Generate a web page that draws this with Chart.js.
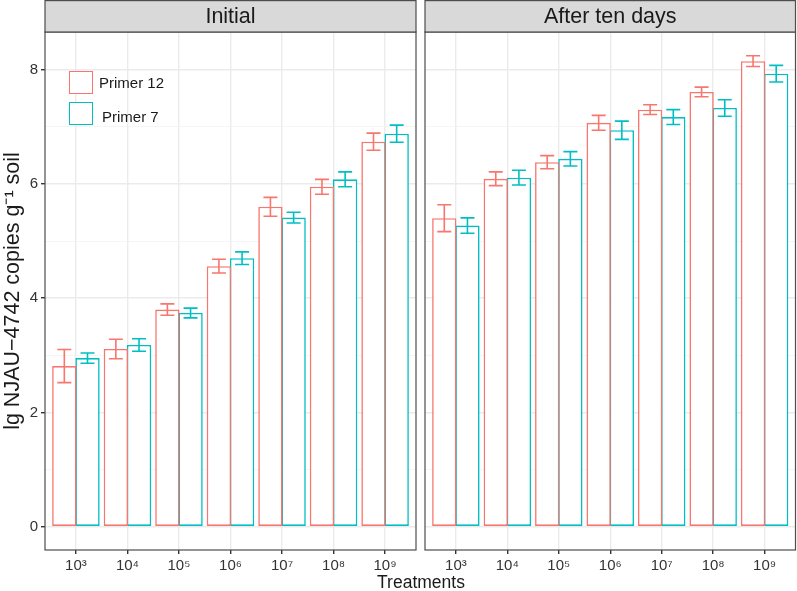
<!DOCTYPE html>
<html>
<head>
<meta charset="utf-8">
<script src="https://cdn.jsdelivr.net/npm/chart.js@4"></script>
<style>
  body { margin: 0; background: #fff; }
  #wrap { position: relative; width: 797px; height: 591px; font-family: "Liberation Sans", Arial, sans-serif; }
  canvas { position: absolute; top: 0; }
  .key { position: absolute; width: 22px; height: 21px; border: 1.6px solid; background: #fff; }
  .lab { position: absolute; font-size: 15px; color: #1a1a1a; line-height: 18px; }
  #xtitle { position: absolute; left: 0; width: 842px; top: 572px; text-align: center; font-size: 17.5px; color: #1a1a1a; }
</style>
</head>
<body>
<div id="wrap">
  <canvas id="leftChart" width="421" height="591" style="left:0"></canvas>
  <canvas id="rightChart" width="376" height="591" style="left:421px"></canvas>
  <div class="key" style="left:69px;top:71px;border-color:#F8766D"></div>
  <div class="lab" style="left:99px;top:74px">Primer 12</div>
  <div class="key" style="left:69px;top:102px;border-color:#00BFC4"></div>
  <div class="lab" style="left:102px;top:108px">Primer 7</div>
  <div id="xtitle">Treatments</div>
</div>
<script>
// data
const treatments = ['10³', '10⁴', '10⁵', '10⁶', '10⁷', '10⁸', '10⁹'];
const seriesNames = ['Primer 12', 'Primer 7'];

const initialP12 = [2.81, 3.11, 3.80, 4.56, 5.60, 5.95, 6.74];
const initialP12Err = [0.29, 0.17, 0.10, 0.12, 0.165, 0.13, 0.15];
const initialP7 = [2.95, 3.18, 3.74, 4.70, 5.41, 6.08, 6.88];
const initialP7Err = [0.09, 0.11, 0.085, 0.11, 0.095, 0.13, 0.15];

const tenDaysP12 = [5.40, 6.09, 6.38, 7.07, 7.30, 7.61, 8.15];
const tenDaysP12Err = [0.235, 0.12, 0.115, 0.13, 0.085, 0.085, 0.095];
const tenDaysP7 = [5.27, 6.11, 6.44, 6.94, 7.17, 7.33, 7.93];
const tenDaysP7Err = [0.135, 0.13, 0.125, 0.16, 0.13, 0.145, 0.145];

const yTicks = [0, 1, 2, 3, 4, 5, 6, 7, 8];
const yMin = -0.41, yMax = 8.66;

const colors = ['#F8766D', '#00BFC4'];

Chart.defaults.font.family = '"Liberation Sans", Arial, sans-serif';
Chart.defaults.color = '#333';

// strip on top, border round the panel, error bars
const panelPlugin = {
    id: 'panel',
    afterDatasetsDraw(chart) {
        const ctx = chart.ctx;
        const y = chart.scales.y;
        chart.data.datasets.forEach((ds, i) => {
            const meta = chart.getDatasetMeta(i);
            ctx.save();
            ctx.strokeStyle = ds.borderColor;
            ctx.lineWidth = 1.6;
            meta.data.forEach((bar, j) => {
                const v = ds.data[j].y;
                const hi = y.getPixelForValue(v + ds.err[j]);
                const lo = y.getPixelForValue(v - ds.err[j]);
                const w = 7;
                ctx.beginPath();
                ctx.moveTo(bar.x, hi); ctx.lineTo(bar.x, lo);
                ctx.moveTo(bar.x - w, hi); ctx.lineTo(bar.x + w, hi);
                ctx.moveTo(bar.x - w, lo); ctx.lineTo(bar.x + w, lo);
                ctx.stroke();
            });
            ctx.restore();
        });
    },
    afterDraw(chart, args, opts) {
        const ctx = chart.ctx;
        const a = chart.chartArea;
        ctx.save();
        ctx.strokeStyle = '#4d4d4d';
        ctx.lineWidth = 1.2;
        ctx.strokeRect(a.left, a.top, a.right - a.left, a.bottom - a.top);
        ctx.fillStyle = '#D9D9D9';
        ctx.fillRect(a.left, 0.6, a.right - a.left, a.top - 0.6);
        ctx.strokeRect(a.left, 0.6, a.right - a.left, a.top - 0.6);
        ctx.fillStyle = '#1a1a1a';
        ctx.font = '21.5px "Liberation Sans", Arial, sans-serif';
        ctx.textAlign = 'center';
        ctx.textBaseline = 'middle';
        ctx.fillText(opts.title, (a.left + a.right) / 2, a.top / 2 + 1);
        ctx.restore();
    }
};

function makePanel(id, title, p12, p12Err, p7, p7Err, showY) {
    const pts = arr => arr.map((v, i) => ({ x: i + 1, y: v }));
    return new Chart(document.getElementById(id), {
        type: 'bar',
        data: {
            datasets: [
                { label: seriesNames[0], data: pts(p12), err: p12Err, borderColor: colors[0] },
                { label: seriesNames[1], data: pts(p7), err: p7Err, borderColor: colors[1] }
            ].map(d => Object.assign(d, {
                backgroundColor: '#fff',
                borderWidth: 1.6,
                borderSkipped: false,
                categoryPercentage: 0.9,
                barPercentage: 1.05
            }))
        },
        options: {
            responsive: false,
            animation: false,
            layout: { padding: { top: 32, right: showY ? 5 : 1.5, bottom: 0, left: 0 } },
            plugins: {
                legend: { display: false },
                tooltip: { enabled: false },
                panel: { title: title }
            },
            scales: {
                x: {
                    type: 'linear',
                    offset: false,
                    min: 0.4,
                    max: 7.6,
                    afterBuildTicks: s => { s.ticks = treatments.map((t, i) => ({ value: i + 1 })); },
                    afterFit: s => { s.height = 41; },
                    grid: { color: '#EBEBEB', lineWidth: 1.4, tickColor: '#333', tickLength: 4, offset: false },
                    border: { display: false },
                    ticks: {
                        padding: 3,
                        color: '#333',
                        font: { size: 15 },
                        maxRotation: 0,
                        autoSkip: false,
                        callback: v => treatments[v - 1]
                    }
                },
                y: {
                    min: yMin,
                    max: yMax,
                    afterBuildTicks: s => { s.ticks = yTicks.map(v => ({ value: v })); },
                    afterFit: s => { s.width = showY ? 45 : 4; },
                    grid: {
                        color: c => c.tick && c.tick.value % 2 ? '#F3F3F3' : '#EBEBEB',
                        lineWidth: c => c.tick && c.tick.value % 2 ? 0.8 : 1.4,
                        tickColor: c => c.tick && c.tick.value % 2 ? 'rgba(0,0,0,0)' : '#333',
                        tickLength: 4,
                        drawTicks: showY
                    },
                    border: { display: false },
                    ticks: {
                        display: showY,
                        padding: 3,
                        color: '#333',
                        font: { size: 15 },
                        callback: v => v % 2 ? '' : String(v)
                    },
                    title: {
                        display: showY,
                        text: 'lg NJAU−4742 copies g⁻¹ soil',
                        color: '#1a1a1a',
                        font: { size: 21.5 },
                        padding: { top: 0, bottom: 0 }
                    }
                }
            }
        },
        plugins: [panelPlugin]
    });
}

makePanel('leftChart', 'Initial', initialP12, initialP12Err, initialP7, initialP7Err, true);
makePanel('rightChart', 'After ten days', tenDaysP12, tenDaysP12Err, tenDaysP7, tenDaysP7Err, false);
</script>
</body>
</html>
